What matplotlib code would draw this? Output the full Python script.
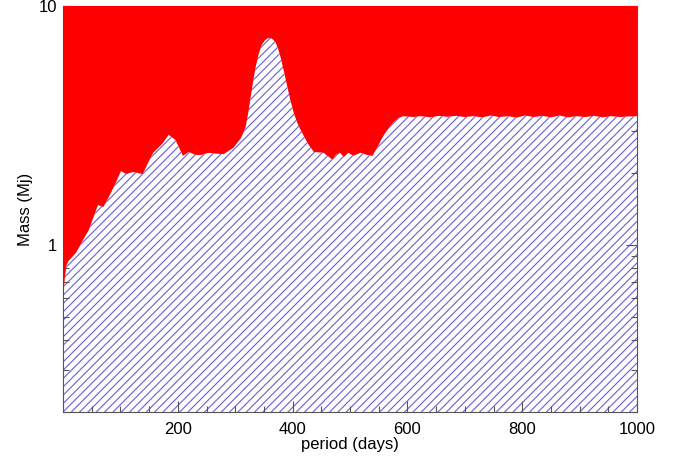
import numpy as np
import matplotlib
matplotlib.use("Agg")
import matplotlib.pyplot as plt
from matplotlib.ticker import FixedLocator, NullFormatter

plt.rcParams['font.family'] = ['Liberation Sans', 'DejaVu Sans']
plt.rcParams['hatch.linewidth'] = 0.8

# Detection limit curve: period (days) vs mass (Mj)
period = [0, 3, 6, 10, 16, 23, 34, 45, 61, 70, 80, 92, 101, 110, 122, 139, 148, 157, 166, 174,
          184, 196, 209, 219, 231, 240, 254, 268, 280, 297, 310, 318, 323, 327, 331, 336, 341,
          346, 352, 358, 364, 370, 375, 379, 385, 391, 396, 402, 408, 414, 426, 437, 454, 470,
          475, 483, 489, 497, 506, 518, 530, 539, 548, 557, 566, 576, 585, 593, 611, 623, 640,
          655, 670, 685, 700, 715, 730, 745, 760, 775, 790, 805, 820, 835, 850, 865, 880, 895,
          910, 925, 940, 955, 970, 985, 1000]
mass = [0.59, 0.72, 0.82, 0.86, 0.89, 0.93, 1.04, 1.155, 1.47, 1.44, 1.59, 1.82, 2.04, 1.98,
        2.02, 1.98, 2.2, 2.43, 2.55, 2.67, 2.89, 2.75, 2.36, 2.45, 2.38, 2.38, 2.43, 2.41,
        2.40, 2.55, 2.8, 3.1, 3.6, 4.16, 4.8, 5.6, 6.3, 6.85, 7.2, 7.35, 7.3, 7.07, 6.6,
        6.12, 5.3, 4.58, 4.05, 3.57, 3.25, 3.03, 2.67, 2.45, 2.43, 2.27, 2.38, 2.43, 2.33,
        2.43, 2.36, 2.43, 2.38, 2.36, 2.57, 2.83, 3.05, 3.27, 3.4, 3.46, 3.43, 3.46, 3.42,
        3.47, 3.44, 3.47, 3.43, 3.46, 3.42, 3.48, 3.43, 3.46, 3.41, 3.48, 3.43, 3.47, 3.42,
        3.48, 3.42, 3.46, 3.43, 3.47, 3.42, 3.46, 3.43, 3.45, 3.46]

x_major = [200, 400, 600, 800, 1000]
x_minor = list(range(50, 1000, 50))
y_major = [1, 10]
y_labels = ['1', '10']
y_minor = [0.2, 0.3, 0.4, 0.5, 0.6, 0.7, 0.8, 0.9, 2, 3, 4, 5, 6, 7, 8, 9]

fig = plt.figure(figsize=(6.76, 4.59), dpi=100)
ax = fig.add_axes([63/676, 1-412/459, (637-63)/676, (412-6)/459])

ax.set_yscale('log')
ax.set_xlim(0, 1000)
ax.set_ylim(0.2, 10)

ax.fill_between(period, 0.2, mass, facecolor='white', edgecolor='#6a5fd6',
                hatch='////', linewidth=0, zorder=1)
ax.fill_between(period, mass, 10, facecolor='#ff0000', edgecolor='none',
                linewidth=0, zorder=3)

ax.xaxis.set_major_locator(FixedLocator(x_major))
ax.xaxis.set_minor_locator(FixedLocator(x_minor))
ax.yaxis.set_major_locator(FixedLocator(y_major))
ax.set_yticklabels(y_labels)
ax.yaxis.set_minor_locator(FixedLocator(y_minor))
ax.yaxis.set_minor_formatter(NullFormatter())

ax.tick_params(which='both', direction='in', top=True, right=True,
               color='#555555', labelsize=12)
ax.tick_params(axis='x', pad=7)
ax.tick_params(axis='y', pad=4)
ax.tick_params(which='major', length=8, width=0.8)
ax.tick_params(which='minor', length=4, width=0.8)
for s in ax.spines.values():
    s.set_color('#555555')
    s.set_linewidth(0.8)

ax.set_xlabel('period (days)', fontsize=12, labelpad=0)
ax.set_ylabel('Mass (Mj)', fontsize=12, labelpad=4)

fig.savefig('out.png', dpi=100)
